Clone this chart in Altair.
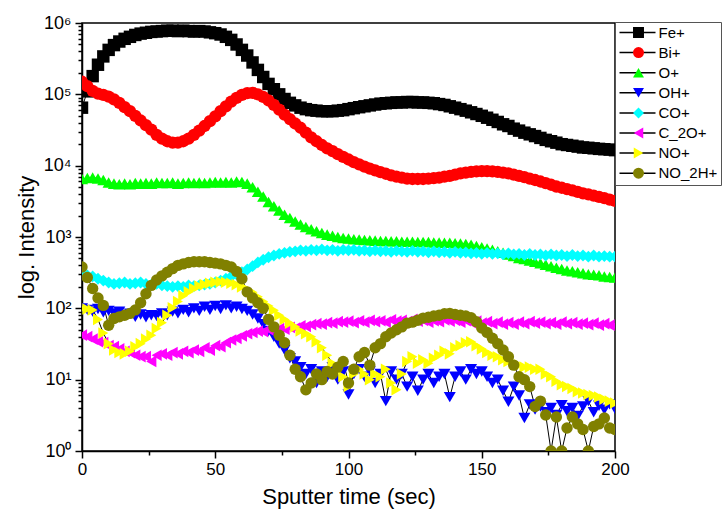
import altair as alt
import pandas as pd

SERIES = ["Fe+", "Bi+", "O+", "OH+", "CO+", "C_2O+", "NO+", "NO_2H+"]
COLORS = ["#000000", "#ff0000", "#00ff00", "#0000ff", "#00ffff", "#ff00ff", "#ffff00", "#808000"]
SHAPES = ["square", "circle", "triangle-up", "triangle-down", "diamond",
          "triangle-left", "triangle-right", "circle"]
SIZES = [110, 130, 145, 140, 135, 145, 155, 130]

TIME = list(range(0, 201, 2))

FE = [6.5e4, 1.1e5, 1.8e5, 2.6e5, 3.4e5, 4.2e5, 4.9e5, 5.5e5, 6.0e5, 6.4e5,
      6.8e5, 7.1e5, 7.3e5, 7.5e5, 7.6e5, 7.7e5, 7.8e5, 7.8e5, 7.7e5, 7.8e5,
      7.7e5, 7.6e5, 7.7e5, 7.6e5, 7.4e5, 7.2e5, 6.9e5, 6.4e5, 5.8e5, 5.0e5,
      4.2e5, 3.5e5, 2.8e5, 2.2e5, 1.75e5, 1.4e5, 1.18e5, 1.0e5, 8.6e4, 7.6e4,
      7.0e4, 6.5e4, 6.2e4, 6.0e4, 5.9e4, 5.8e4, 5.8e4, 5.8e4, 5.9e4, 6.0e4,
      6.2e4, 6.4e4, 6.6e4, 6.8e4, 7.0e4, 7.2e4, 7.4e4, 7.5e4, 7.6e4, 7.7e4,
      7.7e4, 7.8e4, 7.8e4, 7.7e4, 7.7e4, 7.6e4, 7.5e4, 7.3e4, 7.1e4, 6.8e4,
      6.5e4, 6.2e4, 5.9e4, 5.6e4, 5.3e4, 5.0e4, 4.7e4, 4.4e4, 4.1e4, 3.8e4,
      3.6e4, 3.3e4, 3.1e4, 2.9e4, 2.75e4, 2.6e4, 2.45e4, 2.3e4, 2.2e4, 2.1e4,
      2.0e4, 1.95e4, 1.9e4, 1.85e4, 1.8e4, 1.78e4, 1.75e4, 1.72e4, 1.7e4, 1.68e4,
      1.65e4]

BI = [1.5e5, 1.3e5, 1.12e5, 1.02e5, 9.8e4, 9.3e4, 8.5e4, 7.6e4, 6.6e4, 5.8e4,
      5.0e4, 4.3e4, 3.7e4, 3.2e4, 2.7e4, 2.4e4, 2.2e4, 2.1e4, 2.1e4, 2.2e4,
      2.4e4, 2.7e4, 3.1e4, 3.6e4, 4.2e4, 4.9e4, 5.8e4, 6.8e4, 7.9e4, 8.9e4,
      9.8e4, 1.04e5, 1.05e5, 1.0e5, 9.2e4, 8.2e4, 7.1e4, 6.1e4, 5.2e4, 4.5e4,
      3.9e4, 3.4e4, 2.9e4, 2.5e4, 2.2e4, 1.95e4, 1.75e4, 1.6e4, 1.45e4, 1.33e4,
      1.22e4, 1.12e4, 1.04e4, 9.7e3, 9.1e3, 8.6e3, 8.1e3, 7.7e3, 7.3e3, 7.0e3,
      6.8e3, 6.6e3, 6.5e3, 6.5e3, 6.5e3, 6.6e3, 6.7e3, 6.8e3, 7.0e3, 7.2e3,
      7.5e3, 7.8e3, 8.0e3, 8.2e3, 8.3e3, 8.4e3, 8.4e3, 8.3e3, 8.2e3, 8.0e3,
      7.8e3, 7.5e3, 7.2e3, 6.9e3, 6.6e3, 6.3e3, 6.0e3, 5.7e3, 5.4e3, 5.1e3,
      4.9e3, 4.7e3, 4.5e3, 4.3e3, 4.1e3, 3.95e3, 3.8e3, 3.65e3, 3.5e3, 3.35e3,
      3.2e3]

O = [6.5e3, 6.7e3, 6.8e3, 6.6e3, 6.3e3, 5.8e3, 5.6e3, 5.5e3, 5.6e3, 5.5e3,
     5.7e3, 5.6e3, 5.7e3, 5.6e3, 5.8e3, 5.7e3, 5.7e3, 5.8e3, 5.6e3, 5.7e3,
     5.8e3, 5.7e3, 5.8e3, 5.7e3, 5.8e3, 5.9e3, 5.8e3, 5.9e3, 5.8e3, 6.0e3,
     5.9e3, 5.6e3, 5.0e3, 4.3e3, 3.7e3, 3.1e3, 2.7e3, 2.35e3, 2.05e3, 1.85e3,
     1.65e3, 1.5e3, 1.38e3, 1.28e3, 1.2e3, 1.14e3, 1.08e3, 1.04e3, 1.0e3, 9.7e2,
     9.5e2, 9.3e2, 9.2e2, 9.1e2, 9.0e2, 8.9e2, 8.8e2, 8.8e2, 8.7e2, 8.7e2,
     8.6e2, 8.6e2, 8.6e2, 8.5e2, 8.5e2, 8.5e2, 8.4e2, 8.4e2, 8.3e2, 8.3e2,
     8.2e2, 8.1e2, 8.0e2, 7.8e2, 7.5e2, 7.2e2, 6.9e2, 6.6e2, 6.3e2, 6.0e2,
     5.7e2, 5.4e2, 5.1e2, 4.9e2, 4.7e2, 4.5e2, 4.3e2, 4.1e2, 3.9e2, 3.7e2,
     3.55e2, 3.4e2, 3.3e2, 3.2e2, 3.1e2, 3.0e2, 2.95e2, 2.9e2, 2.8e2, 2.75e2,
     2.7e2]

CO = [3.0e2, 2.9e2, 2.8e2, 2.6e2, 2.45e2, 2.3e2, 2.2e2, 2.25e2, 2.3e2, 2.2e2,
      2.25e2, 2.3e2, 2.2e2, 2.15e2, 2.2e2, 2.1e2, 2.05e2, 2.0e2, 2.05e2, 2.0e2,
      2.1e2, 2.05e2, 2.1e2, 2.15e2, 2.2e2, 2.3e2, 2.45e2, 2.6e2, 2.8e2, 3.0e2,
      3.2e2, 3.5e2, 3.9e2, 4.4e2, 4.8e2, 5.2e2, 5.5e2, 5.8e2, 6.0e2, 6.2e2,
      6.3e2, 6.5e2, 6.4e2, 6.6e2, 6.5e2, 6.7e2, 6.5e2, 6.6e2, 6.4e2, 6.6e2,
      6.5e2, 6.6e2, 6.4e2, 6.5e2, 6.3e2, 6.5e2, 6.3e2, 6.4e2, 6.2e2, 6.4e2,
      6.3e2, 6.2e2, 6.4e2, 6.2e2, 6.3e2, 6.1e2, 6.3e2, 6.1e2, 6.2e2, 6.0e2,
      6.2e2, 6.0e2, 6.1e2, 5.9e2, 6.0e2, 5.8e2, 6.0e2, 5.8e2, 5.9e2, 5.7e2,
      5.9e2, 5.7e2, 5.8e2, 5.6e2, 5.8e2, 5.6e2, 5.7e2, 5.5e2, 5.7e2, 5.5e2,
      5.6e2, 5.4e2, 5.6e2, 5.4e2, 5.5e2, 5.3e2, 5.5e2, 5.3e2, 5.4e2, 5.3e2,
      5.3e2]

OH = [100, 95, 90, 98, 88, 92, 85, 90, 80, 84,
      76, 82, 75, 80, 78, 85, 80, 90, 85, 95,
      88, 100, 92, 105, 95, 108, 98, 110, 100, 105,
      98, 92, 82, 72, 60, 48, 40, 32, 26, 20,
      18, 15, 12, 14, 9, 13, 11, 15, 10, 13,
      6.2, 12, 14, 11, 13, 9, 12, 5, 13, 10,
      12, 8, 11, 7, 10, 12, 9, 11, 12, 5.7,
      11, 13, 10, 14, 12, 13, 11, 9, 10, 7,
      4.9, 8, 6, 2.9, 4.5, 3.8, 4.2, 3.5, 4.0, 3.2,
      4.4, 3.6, 4.0, 3.1, 4.2, 5.0, 3.5, 4.3, 3.8, 4.5,
      3.9]

C2O = [42, 40, 37, 34, 33, 30, 29, 27, 25, 24,
       22, 21, 21, 18, 22, 23, 22, 24, 23, 25,
       24, 26, 25, 28, 26, 30, 29, 33, 36, 38,
       41, 44, 46, 48, 47, 50, 49, 52, 51, 54,
       53, 57, 56, 59, 61, 60, 63, 62, 65, 64,
       66, 63, 67, 64, 68, 65, 67, 64, 69, 66,
       68, 65, 70, 66, 68, 64, 67, 65, 69, 66,
       68, 64, 67, 63, 66, 62, 65, 61, 64, 60,
       63, 60, 64, 61, 65, 62, 64, 61, 63, 60,
       64, 61, 63, 60, 62, 59, 62, 58, 61, 58,
       57]

NO = [100, 98, 95, 70, 45, 32, 26, 24, 23, 25,
      29, 32, 37, 42, 52, 63, 80, 102, 125, 150,
      170, 190, 205, 215, 225, 232, 235, 232, 225, 215,
      200, 185, 168, 145, 125, 108, 94, 80, 70, 62,
      55, 48, 44, 40, 34, 28, 22, 17, 14, 11,
      8, 12, 14, 12, 10, 12, 11, 14, 9, 7.2,
      12, 18, 21, 17, 19, 17, 20, 22, 25, 23,
      28, 30, 33, 34, 30, 27, 24, 22, 21, 19,
      18, 17, 16, 15, 15, 14, 14, 12, 11, 9.5,
      8.5, 8, 7.5, 6.8, 6.5, 6.2, 6, 5.7, 5.3, 5,
      4.7]

NO2H = [380, 270, 190, 140, 110, 58, 72, 76, 80, 85,
        95, 120, 160, 210, 250, 285, 320, 360, 400, 420,
        440, 450, 450, 450, 440, 430, 420, 400, 380, 330,
        260, 170, 140, 120, 100, 70, 55, 42, 33, 22,
        14, 11, 7.2, 9, 12, 10, 13, 12, 15, 18,
        9, 14, 21, 24, 16, 28, 32, 40, 45, 50,
        55, 62, 64, 68, 73, 75, 78, 80, 84, 85,
        82, 80, 78, 74, 65, 53, 46, 38, 32, 26,
        21, 16, 11, 10, 8, 4.2, 5.0, 3.2, 1.0, 3.0,
        1.0, 2.1, 3.0, 2.4, 2.0, 1.0, 2.2, 2.4, 2.9, 2.1,
        2.0]

VALUES = [FE, BI, O, OH, CO, C2O, NO, NO2H]

X_TICKS = [0, 25, 50, 75, 100, 125, 150, 175, 200]
Y_TICKS = [m * 10 ** e for e in range(0, 6) for m in range(1, 10)] + [1000000]

rows = []
for name, vals in zip(SERIES, VALUES):
    for t, v in zip(TIME, vals):
        rows.append({"t": t, "value": v, "series": name, "line": "L " + name})
df = pd.DataFrame(rows)

FONT = "Liberation Sans"

xscale = alt.Scale(domain=[0, 200], nice=False, zero=False)
yscale = alt.Scale(type="log", domain=[1, 1000000], nice=False)

xaxis = alt.Axis(
    values=X_TICKS,
    labelExpr="datum.value % 50 == 0 ? datum.label : ''",
    tickSize={"condition": {"test": "datum.value % 50 == 0", "value": 7}, "value": 4},
    labelFlush=False, labelOverlap=False, grid=False, labelFontSize=17,
    title="Sputter time (sec)", titlePadding=9, labelPadding=3,
)
yaxis = alt.Axis(
    values=Y_TICKS,
    labelExpr=("indexof([1,10,100,1000,10000,100000,1000000], datum.value) >= 0 ? "
               "'10' + ['\u2070','\u00b9','\u00b2','\u00b3','\u2074','\u2075','\u2076']"
               "[round(log(datum.value)/LN10)] : ''"),
    tickSize={"condition": {"test": "indexof([1,10,100,1000,10000,100000,1000000], datum.value) >= 0",
                            "value": 7}, "value": 4},
    labelFlush=False, labelOverlap=False, grid=False, labelFontSize=18,
    title="log. Intensity", titlePadding=5, labelPadding=4,
)

# legend that only draws the black line of every entry (no labels)
line_legend = alt.Legend(
    orient="none", legendX=533, legendY=-1, title=None,
    symbolType="stroke", symbolSize=1296, symbolStrokeWidth=1.5,
    clipHeight=14, rowPadding=5.1, padding=3.5,
    labelExpr="''", labelFontSize=15, labelOffset=0,
)
# legend that draws the frame, the coloured markers and the labels on top
point_legend = alt.Legend(
    orient="none", legendX=533, legendY=-1, title=None,
    symbolSize=120, symbolStrokeWidth=0, symbolOffset=12.5,
    clipHeight=14, rowPadding=5.1, padding=3.5,
    labelFont=FONT, labelFontSize=15, labelColor="black", labelOffset=12.5,
    strokeColor="#555555",
)

base = alt.Chart(df)

lines = base.mark_line(strokeWidth=1, clip=True).encode(
    x=alt.X("t:Q", scale=xscale, axis=xaxis),
    y=alt.Y("value:Q", scale=yscale, axis=yaxis),
    color=alt.Color("line:N", scale=alt.Scale(range=["#000000"] * len(SERIES)),
                    legend=line_legend),
)

points = base.mark_point(filled=True, opacity=1, strokeWidth=0, clip=True).encode(
    x=alt.X("t:Q", scale=xscale),
    y=alt.Y("value:Q", scale=yscale),
    fill=alt.Fill("series:N", scale=alt.Scale(domain=SERIES, range=COLORS), legend=point_legend),
    shape=alt.Shape("series:N", scale=alt.Scale(domain=SERIES, range=SHAPES), legend=point_legend),
    # size scale listed in reverse so it is not merged into the marker legend
    size=alt.Size("series:N",
                  scale=alt.Scale(domain=SERIES[::-1], range=SIZES[::-1]),
                  legend=None),
)

chart = alt.layer(lines, points).properties(
    width=533, height=428,
    autosize=alt.AutoSizeParams(type="none"),
    padding={"left": 82, "top": 23, "right": 107, "bottom": 60},
).configure_view(
    stroke="black", strokeWidth=1.5
).configure_axis(
    domainColor="black", domainWidth=1.5, tickColor="black", tickWidth=1.5,
    labelColor="black", titleColor="black", labelFont=FONT, titleFont=FONT,
    titleFontSize=22, titleFontWeight="normal",
)

chart.save("out.html", embed_options={"renderer": "svg", "actions": False})
